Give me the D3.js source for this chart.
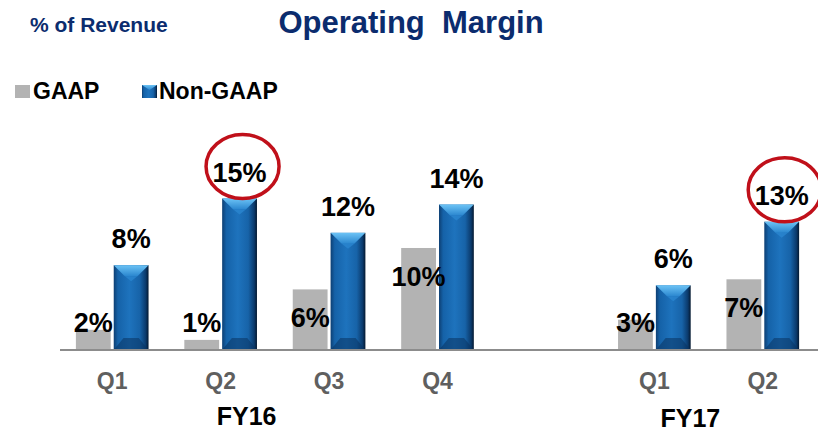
<!DOCTYPE html>
<html>
<head>
<meta charset="utf-8">
<script src="https://cdn.jsdelivr.net/npm/d3@7"></script>
<style>
  body { margin: 0; background: #fff; }
  svg { display: block; font-family: "Liberation Sans", Arial, sans-serif; font-weight: bold; }
</style>
</head>
<body>
<div id="viz"></div>
<script>
// data
const quarters = ["Q1", "Q2", "Q3", "Q4", "Q1", "Q2"];
const years = ["FY16", "FY16", "FY16", "FY16", "FY17", "FY17"];
const gaap = [2.0, 1.0, 6.0, 10.1, 3.0, 7.0];
const nonGaap = [8.4, 15.0, 11.6, 14.4, 6.4, 12.7];
const series = ["GAAP", "Non-GAAP"];
const circled = [1, 5]; // Non-GAAP labels with a red ring
const yearLabels = ["FY16", "FY17"];

const width = 818, height = 431;
const baseY = 350;

const svg = d3.select("#viz")
  .append("svg")
    .attr("width", width)
    .attr("height", height);

const defs = svg.append("defs");

const barGrad = defs.append("linearGradient")
  .attr("id", "blueBar")
  .attr("x1", "0%").attr("x2", "100%").attr("y1", "0%").attr("y2", "0%");
[["0%", "#0d3f73"], ["12%", "#1562a8"], ["45%", "#1e73bd"], ["75%", "#1763a8"], ["92%", "#0b3a6c"], ["100%", "#04182f"]]
  .forEach(s => barGrad.append("stop").attr("offset", s[0]).attr("stop-color", s[1]));

const topGrad = defs.append("linearGradient")
  .attr("id", "blueTop")
  .attr("x1", "0%").attr("x2", "0%").attr("y1", "0%").attr("y2", "100%");
[["0%", "#6cc3f5"], ["100%", "#2a86cf"]]
  .forEach(s => topGrad.append("stop").attr("offset", s[0]).attr("stop-color", s[1]));

// one slot per quarter plus an empty slot between the years
const slots = quarters.map((q, i) => years[i] + " " + q);
const domain = [...slots.slice(0, 4), "gap", ...slots.slice(4)];

const x0 = d3.scaleBand()
  .domain(domain)
  .range([58, 817])
  .paddingInner(0.33)
  .paddingOuter(0.165);

const x1 = d3.scaleBand()
  .domain(series)
  .range([0, x0.bandwidth()])
  .paddingInner(0.08);

const y = d3.scaleLinear()
  .domain([0, 20])
  .range([baseY, baseY - 202]);

// header
svg.append("text")
  .attr("x", 30)
  .attr("y", 32)
  .style("font-size", "21px")
  .style("fill", "#0b2c6e")
  .text("% of Revenue");

svg.append("text")
  .attr("x", 411)
  .attr("y", 33)
  .attr("text-anchor", "middle")
  .style("font-size", "31px")
  .style("fill", "#0b2c6e")
  .style("white-space", "pre")
  .text("Operating  Margin");

// legend
const legend = svg.append("g");
legend.append("rect")
  .attr("x", 15).attr("y", 85).attr("width", 15).attr("height", 13)
  .style("fill", "#b3b3b3");
legend.append("text")
  .attr("x", 33).attr("y", 99)
  .style("font-size", "23px")
  .text(series[0]);
legend.append("rect")
  .attr("x", 142).attr("y", 85).attr("width", 15).attr("height", 13)
  .style("fill", "url(#blueBar)");
legend.append("path")
  .attr("d", "M142,85L157,85L149.5,90Z")
  .style("fill", "url(#blueTop)");
legend.append("text")
  .attr("x", 159).attr("y", 99)
  .style("font-size", "23px")
  .text(series[1]);

// bars
const groups = svg.selectAll(".grp")
  .data(slots)
  .join("g")
  .attr("class", "grp")
  .attr("transform", d => `translate(${x0(d)},0)`);

groups.append("rect")
  .attr("x", x1("GAAP"))
  .attr("y", (d, i) => y(gaap[i]))
  .attr("width", x1.bandwidth())
  .attr("height", (d, i) => baseY - y(gaap[i]))
  .style("fill", "#b3b3b3");

const bw = x1.bandwidth();
const bx = x1("Non-GAAP");

groups.append("rect")
  .attr("x", bx)
  .attr("y", (d, i) => y(nonGaap[i]))
  .attr("width", bw)
  .attr("height", (d, i) => baseY - y(nonGaap[i]))
  .style("fill", "url(#blueBar)");

// bevelled top
groups.append("path")
  .attr("d", (d, i) => {
    const t = y(nonGaap[i]);
    return `M${bx},${t}L${bx + bw},${t}L${bx + bw * 0.68},${t + 11}L${bx + bw * 0.32},${t + 11}Z`;
  })
  .style("fill", "url(#blueTop)");

groups.append("path")
  .attr("d", (d, i) => {
    const t = y(nonGaap[i]);
    return `M${bx + bw * 0.32},${t + 11}L${bx + bw * 0.68},${t + 11}L${bx + bw / 2},${t + 16}Z`;
  })
  .style("fill", "#2a86cf")
  .style("opacity", 0.8);

// darker bottom bevel
groups.append("path")
  .attr("d", () => {
    const b = baseY;
    return `M${bx},${b}L${bx + bw},${b}L${bx + bw * 0.72},${b - 12}L${bx + bw * 0.28},${b - 12}Z`;
  })
  .style("fill", "#0a3360")
  .style("opacity", 0.55);

// axis line
svg.append("line")
  .attr("x1", 60).attr("x2", width)
  .attr("y1", baseY).attr("y2", baseY)
  .style("stroke", "#8c8c8c")
  .style("stroke-width", 2);

// value labels
groups.append("text")
  .attr("x", x1("GAAP") + bw / 2)
  .attr("y", (d, i) => Math.min(y(gaap[i]) + 38, baseY - 18))
  .attr("text-anchor", "middle")
  .style("font-size", "27px")
  .style("fill", "#000")
  .text((d, i) => Math.round(gaap[i]) + "%");

groups.append("text")
  .attr("x", bx + bw / 2)
  .attr("y", (d, i) => y(nonGaap[i]) - 17)
  .attr("text-anchor", "middle")
  .style("font-size", "27px")
  .style("fill", "#000")
  .text((d, i) => Math.round(nonGaap[i]) + "%");

// red rings
groups.filter((d, i) => circled.includes(i))
  .append("ellipse")
  .attr("cx", bx + bw / 2 + 3)
  .attr("cy", d => y(nonGaap[slots.indexOf(d)]) - 32)
  .attr("rx", 36.5)
  .attr("ry", 32)
  .style("fill", "none")
  .style("stroke", "#c0101a")
  .style("stroke-width", 3.5);

// quarter labels
groups.append("text")
  .attr("x", x0.bandwidth() / 2)
  .attr("y", 389)
  .attr("text-anchor", "middle")
  .style("font-size", "23px")
  .style("fill", "#5f5f5f")
  .text((d, i) => quarters[i]);

// year labels, placed off the quarters of each year
const yearX = { FY16: x0(slots[1]) + x0.bandwidth() / 2 + 26, FY17: x0(slots[4]) + x0.bandwidth() / 2 + 36 };
const yearY = { FY16: 425, FY17: 427 };
svg.selectAll(".year")
  .data(yearLabels)
  .join("text")
  .attr("class", "year")
  .attr("x", d => yearX[d])
  .attr("y", d => yearY[d])
  .attr("text-anchor", "middle")
  .style("font-size", "25px")
  .style("fill", "#000")
  .text(d => d);
</script>
</body>
</html>
